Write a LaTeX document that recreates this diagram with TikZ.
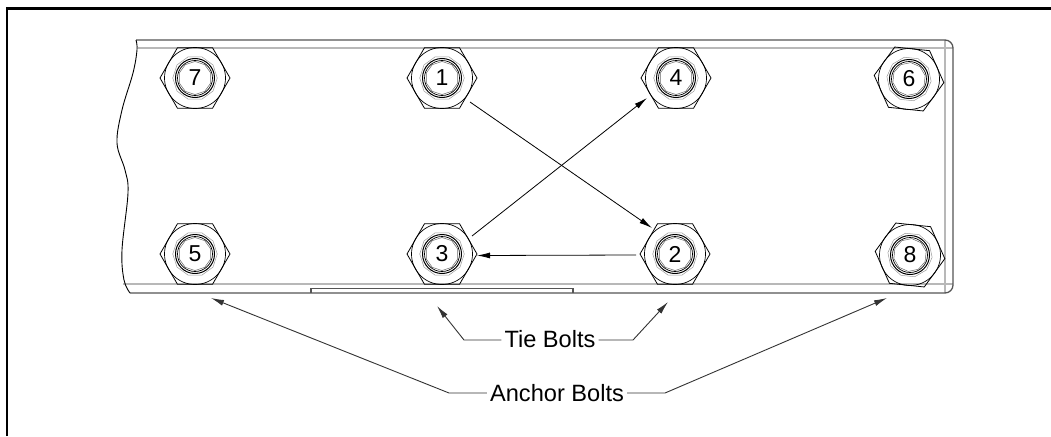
\documentclass[tikz,border=0pt]{standalone}
\usepackage{fontspec}
\setmainfont{Liberation Sans}
\usetikzlibrary{shapes.geometric,arrows.meta,calc}
\definecolor{platedark}{gray}{0.33}
\definecolor{platelight}{gray}{0.72}
\definecolor{ringgray}{gray}{0.6}
\tikzset{
  x=1pt,y=-1pt,
  framewall/.style={black,line width=2.2pt},
  plateedge/.style={platedark,line width=1.3pt},
  platefold/.style={platelight,line width=1.2pt},
  platecut/.style={black,line width=0.9pt},
  hexnut/.style={regular polygon,regular polygon sides=6,draw=black,line width=0.8pt,
    minimum size=70pt,inner sep=0pt,font=\fontsize{23}{23}\selectfont},
  ringblack/.style={draw=black,line width=0.7pt},
  ringthick/.style={draw=black,line width=1pt},
  ringpale/.style={draw=ringgray,line width=0.5pt},
  polyring/.style={regular polygon,regular polygon sides=10,inner sep=0pt,line width=0.5pt},
  seqarrow/.style={draw=black,line width=0.8pt,-{Latex[length=13pt,width=6pt]}},
  leadline/.style={draw=black!80,line width=0.9pt,-{Latex[length=13pt,width=6pt]}},
  callout/.style={font=\fontsize{23.6}{24}\selectfont,anchor=base,inner xsep=3pt,inner ysep=2pt}
}
\newcommand{\boltnut}[5]{%
  \node[hexnut,shape border rotate=#4] (#1) at (#2,#3) {#5};
  \draw[ringblack] (#1.center) circle[radius=30.5];
  \node[polyring,draw=ringgray,minimum size=44.5pt,shape border rotate=#4] at (#1.center) {};
  \draw[ringthick] (#1.center) circle[radius=19.5];
  \draw[ringblack] (#1.center) circle[radius=17.5];
  \node[polyring,draw=black!60,minimum size=33pt,shape border rotate=#4+18] at (#1.center) {};
}
\begin{document}
\begin{tikzpicture}
\useasboundingbox (0,0) rectangle (1051,436);
% outer frame, open on right and bottom
\draw[framewall] (7,436) -- (7,8.5) -- (1051,8.5);
% plate light fold lines
\draw[platefold] (137,48) -- (953,48);
\draw[platefold] (945,40) -- (945,293);
\draw[platefold] (123,284) -- (953,284);
% plate outline
\draw[plateedge,rounded corners=8pt] (136,40) -- (953,40) -- (953,293) -- (130,293);
% notch
\draw[plateedge,line width=1.1pt] (311,293) -- (311,288.5) -- (573,288.5) -- (573,293);
% broken left edge
\draw[platecut] plot[smooth,tension=0.6] coordinates {(136,40) (137,50) (133,73) (122,110) (117,143) (125,170) (128,193) (122,250) (124,280) (130,293)};
% bolts
\boltnut{b7}{195}{78}{0}{7}
\boltnut{b1}{442}{78}{0}{1}
\boltnut{b4}{676}{78}{0}{4}
\boltnut{b6}{909}{79}{-6}{6}
\boltnut{b5}{195}{254}{0}{5}
\boltnut{b3}{442}{254}{0}{3}
\boltnut{b2}{675}{254}{0}{2}
\boltnut{b8}{910}{255}{-6}{8}
% sequence arrows
\draw[seqarrow] ([shift={(28,24)}]b1.center) -- ([shift={(-23,-26)}]b2.center);
\draw[seqarrow] ([shift={(-39,1)}]b2.center) -- ([shift={(35,1.5)}]b3.center);
\draw[seqarrow] ([shift={(30,-18)}]b3.center) -- ([shift={(-29,20)}]b4.center);
% labels
\node[callout] (tie) at (550,347) {Tie Bolts};
\node[callout] (anchor) at (557,401) {Anchor Bolts};
\coordinate (tieL) at (464,340);
\coordinate (tieR) at (633,340);
\coordinate (ancL) at (449,393);
\coordinate (ancR) at (665,393);
\coordinate (tieLtip) at (437,306);
\coordinate (tieRtip) at (668,302);
\coordinate (ancLtip) at (211,298);
\coordinate (ancRtip) at (887,298);
\draw[leadline] (tie.west |- tieL) -- (tieL) -- (tieLtip);
\draw[leadline] (tie.east |- tieR) -- (tieR) -- (tieRtip);
\draw[leadline] (anchor.west |- ancL) -- (ancL) -- (ancLtip);
\draw[leadline] (anchor.east |- ancR) -- (ancR) -- (ancRtip);
\end{tikzpicture}
\end{document}
